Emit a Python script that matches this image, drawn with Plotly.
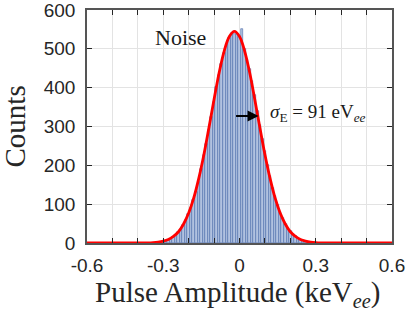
import plotly.graph_objects as go

# Histogram: bin centres (keV_ee) and counts
bin_centers = [round(-0.32 + 0.01 * i, 2) for i in range(63)]
counts = [2, 3, 5, 6, 9, 11, 15, 21, 28, 36,
          47, 58, 74, 90, 112, 131, 158, 190, 226, 255,
          290, 325, 362, 401, 432, 462, 490, 512, 528, 540,
          537, 538, 530, 550, 500, 472, 448, 418, 380, 340,
          305, 268, 236, 200, 172, 142, 120, 97, 80, 64,
          50, 39, 30, 23, 17, 13, 9, 7, 5, 3,
          2, 1, 1]

# Fitted Gaussian curve
fit_x = [-0.60, -0.40, -0.36, -0.34, -0.32, -0.30, -0.28, -0.26, -0.24, -0.22,
         -0.20, -0.18, -0.16, -0.14, -0.12, -0.10, -0.08, -0.06, -0.04, -0.02,
         0.00, 0.02, 0.04, 0.06, 0.08, 0.10, 0.12, 0.14, 0.16, 0.18,
         0.20, 0.22, 0.24, 0.26, 0.28, 0.30, 0.32, 0.36, 0.40, 0.60]
fit_y = [0, 0.1, 0.5, 1.1, 2.4, 4.8, 9, 17, 29, 49,
         77, 116, 167, 228, 298, 370, 439, 495, 532, 545,
         532, 495, 439, 370, 298, 228, 167, 116, 77, 49,
         29, 17, 9, 4.8, 2.4, 1.1, 0.5, 0.1, 0, 0]

x_tickvals = [-0.6, -0.3, 0, 0.3, 0.6]
x_ticktext = ["-0.6", "-0.3", "0", "0.3", "0.6"]
y_tickvals = [0, 100, 200, 300, 400, 500, 600]

fig = go.Figure()
fig.add_trace(go.Bar(
    x=bin_centers, y=counts, width=0.01,
    marker=dict(color="#b2c2e0", line=dict(color="#4a69a8", width=0.6)),
    showlegend=False, hoverinfo="skip"))
fig.add_trace(go.Scatter(
    x=fit_x, y=fit_y, mode="lines",
    line=dict(color="#ff0000", width=2.8, shape="spline"),
    showlegend=False, hoverinfo="skip"))

serif = "Liberation Serif"
sans = "Liberation Sans"

fig.update_layout(
    width=407, height=313,
    margin=dict(l=87, r=15, t=10, b=70),
    paper_bgcolor="white", plot_bgcolor="white",
    bargap=0,
    xaxis=dict(range=[-0.6, 0.6], tickvals=x_tickvals, ticktext=x_ticktext,
               ticks="inside", ticklen=5, tickcolor="#262626",
               minor=dict(dtick=0.1, tick0=0, ticks="inside", ticklen=5,
                          tickcolor="#262626", showgrid=True,
                          gridcolor="#e3e3e3", gridwidth=1),
               showline=True, linecolor="#555555", linewidth=1.5, mirror="ticks",
               showgrid=True, gridcolor="#e3e3e3", gridwidth=1, zeroline=False,
               tickfont=dict(family=sans, size=19, color="#262626"),
               ticklabelstandoff=4, automargin=False, ticklabeloverflow="allow"),
    yaxis=dict(range=[0, 600], tickvals=y_tickvals,
               ticks="inside", ticklen=5, tickcolor="#262626",
               showline=True, linecolor="#555555", linewidth=1.5, mirror="ticks",
               showgrid=True, gridcolor="#e3e3e3", gridwidth=1, zeroline=False,
               tickfont=dict(family=sans, size=19, color="#262626"),
               ticklabelstandoff=6, automargin=False, ticklabeloverflow="allow"),
)

fig.add_annotation(text="Pulse Amplitude (keV<sub><i>ee</i></sub>)",
                   xref="paper", yref="paper", x=0.5, y=0, xshift=-2, yshift=-51,
                   xanchor="center", yanchor="middle", showarrow=False,
                   font=dict(family=serif, size=29, color="#262626"))
fig.add_annotation(text="Counts", xref="paper", yref="paper", x=0, xshift=-73,
                   y=0.5, textangle=-90, xanchor="center", yanchor="middle",
                   showarrow=False, font=dict(family=serif, size=29, color="#262626"))
fig.add_annotation(text="Noise", x=-0.234, y=528, xanchor="center", yanchor="middle",
                   showarrow=False, font=dict(family=serif, size=22, color="#1a1a1a"))
fig.add_annotation(text="<i>σ</i><sub>E</sub> = 91 eV<sub><i>ee</i></sub>",
                   x=0.114, y=335, xanchor="left", yanchor="middle",
                   showarrow=False, font=dict(family=serif, size=19, color="#1a1a1a"))
fig.add_annotation(text="", x=0.075, y=327, ax=-24, ay=0, axref="pixel", ayref="pixel",
                   showarrow=True, arrowhead=2, arrowsize=1, arrowwidth=2.2,
                   arrowcolor="black")

fig.write_html("out.html", config={"displayModeBar": False},
               post_script="document.body.style.margin='0';document.body.style.overflow='hidden';")
